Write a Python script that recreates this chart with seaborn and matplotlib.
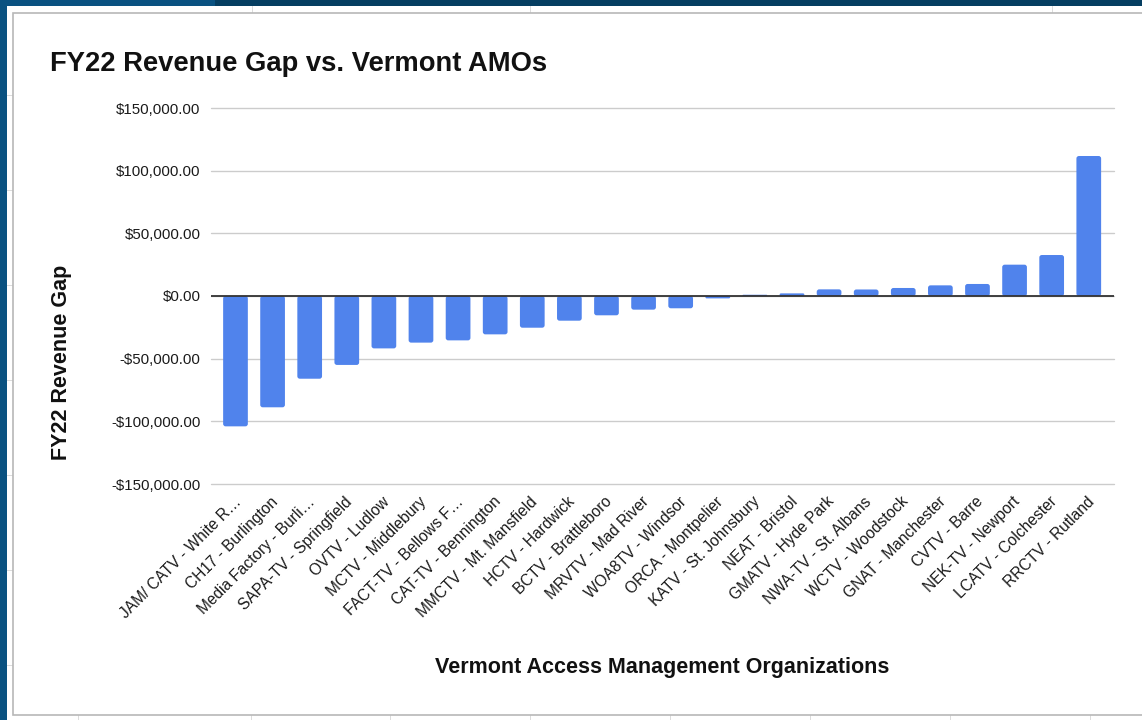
import matplotlib
matplotlib.use("Agg")
import matplotlib.pyplot as plt
import matplotlib.patches as mpatches
import matplotlib.transforms as mtransforms
from matplotlib.ticker import FuncFormatter
import seaborn as sns

# ---- data ----
organizations = [
    "JAM/ CATV - White R…", "CH17 - Burlington", "Media Factory - Burli…",
    "SAPA-TV - Springfield", "OVTV - Ludlow", "MCTV - Middlebury",
    "FACT-TV - Bellows F…", "CAT-TV - Bennington", "MMCTV - Mt. Mansfield",
    "HCTV - Hardwick", "BCTV - Brattleboro", "MRVTV - Mad River",
    "WOA8TV - Windsor", "ORCA - Montpelier", "KATV - St. Johnsbury",
    "NEAT - Bristol", "GMATV - Hyde Park", "NWA-TV - St. Albans",
    "WCTV - Woodstock", "GNAT - Manchester", "CVTV - Barre",
    "NEK-TV - Newport", "LCATV - Colchester", "RRCTV - Rutland",
]
revenue_gap = [
    -104000, -88800, -66000, -55000, -41800, -37200,
    -35400, -30600, -25300, -19700, -15400, -10900,
    -9800, -1900, 1000, 2100, 5300, 5200,
    6400, 8500, 9600, 25000, 32700, 111700,
]
y_ticks = [-150000, -100000, -50000, 0, 50000, 100000, 150000]

title = "FY22 Revenue Gap vs. Vermont AMOs"
x_title = "Vermont Access Management Organizations"
y_title = "FY22 Revenue Gap"

# ---- style ----
sns.set_theme(style="white")
plt.rcParams["font.family"] = ["Liberation Sans", "DejaVu Sans"]

W, H = 1142, 720
fig = plt.figure(figsize=(W / 100, H / 100), dpi=100)
fig.patch.set_facecolor("#ffffff")

def px_rect(x0, y0, x1, y1, **kw):
    r = mpatches.Rectangle((x0 / W, 1 - y1 / H), (x1 - x0) / W, (y1 - y0) / H,
                           transform=fig.transFigure, **kw)
    fig.patches.append(r)

# spreadsheet-like surroundings
for gx in [252, 530, 1052]:
    px_rect(gx, 0, gx + 1, 14, facecolor="#dcdcdc", edgecolor="none", zorder=0)
for gy in [95, 190, 285, 380, 475, 570, 665]:
    px_rect(0, gy, 14, gy + 1, facecolor="#dcdcdc", edgecolor="none", zorder=0)
for gx in [78, 251, 390, 530, 670, 810, 950, 1090]:
    px_rect(gx, 715, gx + 1, 720, facecolor="#dcdcdc", edgecolor="none", zorder=0)
px_rect(0, 0, 215, 6, facecolor="#0a5281", edgecolor="none", zorder=1)
px_rect(215, 0, W, 6, facecolor="#053e61", edgecolor="none", zorder=1)
px_rect(0, 0, 7, H, facecolor="#0a5281", edgecolor="none", zorder=1)
# chart card
px_rect(13, 13, W + 5, 715, facecolor="#ffffff", edgecolor="#b8b8b8",
        linewidth=1.2, zorder=1)

ax_l, ax_r, ax_t, ax_b = 211, 1114, 108, 484
ax = fig.add_axes([ax_l / W, 1 - ax_b / H, (ax_r - ax_l) / W, (ax_b - ax_t) / H])
ax.set_facecolor("none")
ax.set_zorder(2)

bar_color = "#5083ec"
sns.barplot(x=organizations, y=revenue_gap, color=bar_color, saturation=1,
            width=0.666, ax=ax, zorder=3)

xlim = (-0.66, 23.68)
ylim = (-150000, 150000)
ax.set_xlim(*xlim)
ax.set_ylim(*ylim)
ax.set_yticks(y_ticks)

# rounded bar corners (replace seaborn rectangles with rounded boxes of same geometry)
x_per_px = (xlim[1] - xlim[0]) / (ax_r - ax_l)
y_per_px = (ylim[1] - ylim[0]) / (ax_b - ax_t)
aspect = y_per_px / x_per_px
for rect in list(ax.patches):
    x0, w = rect.get_x(), rect.get_width()
    y, h = rect.get_y(), rect.get_height()
    y0, hh = min(y, y + h), abs(h)
    r = min(2.5 * x_per_px, (hh / aspect) / 2, w / 2)
    fb = mpatches.FancyBboxPatch((x0, y0), w, hh,
                                 boxstyle=f"round,pad=0,rounding_size={r}",
                                 mutation_aspect=aspect,
                                 facecolor=bar_color, edgecolor="none", zorder=3)
    rect.remove()
    ax.add_patch(fb)

def money(v, pos):
    s = "${:,.2f}".format(abs(v))
    return "-" + s if v < 0 else s

ax.yaxis.set_major_formatter(FuncFormatter(money))
ax.grid(axis="y", color="#cccccc", linewidth=1, zorder=0)
ax.grid(axis="x", visible=False)
for gl in ax.yaxis.get_gridlines():
    gl.set_clip_on(False)
ax.axhline(0, color="#333333", linewidth=1.3, zorder=4)
for s in ax.spines.values():
    s.set_visible(False)

ax.tick_params(axis="y", length=0, pad=7.5, labelsize=10.8, labelcolor="#1a1a1a")
ax.tick_params(axis="x", length=0, pad=11, labelsize=11.2, labelcolor="#1a1a1a")
offset = mtransforms.ScaledTranslation(3 / 100, 0, fig.dpi_scale_trans)
for lab in ax.get_xticklabels():
    lab.set_rotation(45)
    lab.set_ha("right")
    lab.set_va("center")
    lab.set_rotation_mode("anchor")
    lab.set_transform(lab.get_transform() + offset)

ax.set_xlabel("")
ax.set_ylabel("")

fig.text(50 / W, 1 - 64 / H, title, fontsize=19.7, fontweight="bold",
         ha="left", va="center", color="#111111", zorder=5)
fig.text(662 / W, 1 - 667 / H, x_title, fontsize=15.5, fontweight="bold",
         ha="center", va="center", color="#111111", zorder=5)
fig.text(61 / W, 1 - 362 / H, y_title, fontsize=15.5, fontweight="bold",
         ha="center", va="center", rotation=90, color="#111111", zorder=5)

fig.savefig("out.png", dpi=100)
